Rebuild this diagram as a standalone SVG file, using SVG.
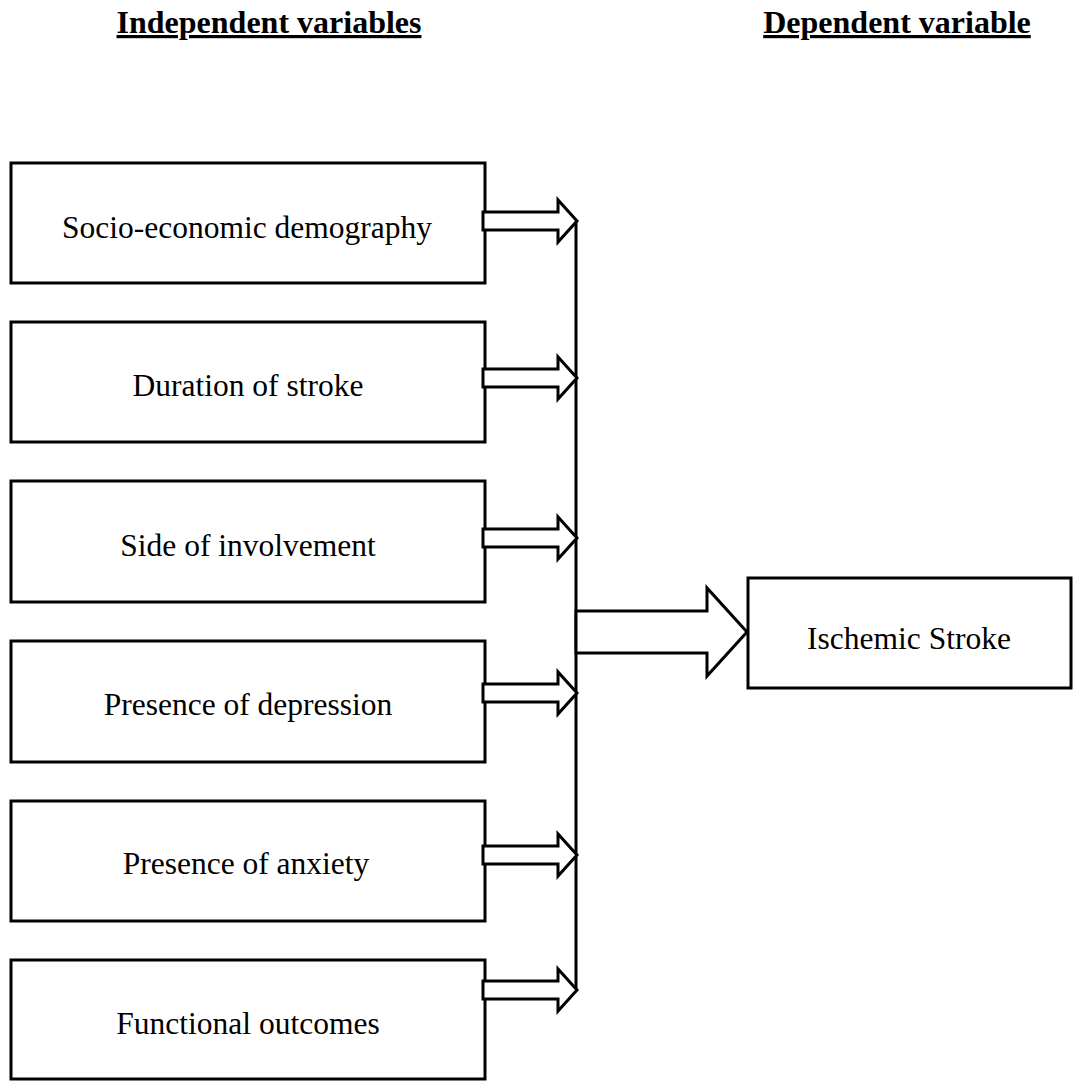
<svg xmlns="http://www.w3.org/2000/svg" width="1073" height="1082" viewBox="0 0 1073 1082">
<style>
.box{fill:#fff;stroke:#000;stroke-width:3}
.lbl{font-family:"Liberation Serif","Times New Roman",serif;font-size:31.5px;fill:#000;text-anchor:middle}
.hd{font-family:"Liberation Serif","Times New Roman",serif;font-size:32px;font-weight:bold;fill:#000;text-anchor:middle;text-decoration:underline}
.arr{fill:#fff;stroke:#000;stroke-width:3;stroke-linejoin:miter}
.ln{fill:none;stroke:#000;stroke-width:3}
</style>
<defs>
<path id="sa" d="M0,-9 H75 V-21 L94,0 L75,21 V9 H0 Z"/>
</defs>
<text class="hd" x="269" y="33">Independent variables</text>
<text class="hd" x="897" y="33">Dependent variable</text>
<g id="n1"><rect class="box" x="11" y="163" width="474" height="120"/><text class="lbl" x="247" y="238">Socio-economic demography</text></g>
<g id="n2"><rect class="box" x="11" y="322" width="474" height="120"/><text class="lbl" x="248" y="396">Duration of stroke</text></g>
<g id="n3"><rect class="box" x="11" y="481" width="474" height="121"/><text class="lbl" x="248" y="556">Side of involvement</text></g>
<g id="n4"><rect class="box" x="11" y="641" width="474" height="121"/><text class="lbl" x="248" y="715">Presence of depression</text></g>
<g id="n5"><rect class="box" x="11" y="801" width="474" height="120"/><text class="lbl" x="246" y="874">Presence of anxiety</text></g>
<g id="n6"><rect class="box" x="11" y="960" width="474" height="119"/><text class="lbl" x="248" y="1034">Functional outcomes</text></g>
<g id="n7"><rect class="box" x="748" y="578" width="323" height="110"/><text class="lbl" x="909" y="649">Ischemic Stroke</text></g>
<g id="connectors">
<line class="ln" x1="576" y1="221" x2="576" y2="990"/>
<use href="#sa" class="arr" transform="translate(483,221)"/>
<use href="#sa" class="arr" transform="translate(483,378)"/>
<use href="#sa" class="arr" transform="translate(483,538)"/>
<use href="#sa" class="arr" transform="translate(483,693)"/>
<use href="#sa" class="arr" transform="translate(483,855)"/>
<use href="#sa" class="arr" transform="translate(483,990)"/>
<path class="arr" d="M576,611 H707 V588 L747,632 L707,676 V653 H576 Z"/>
</g>
</svg>
